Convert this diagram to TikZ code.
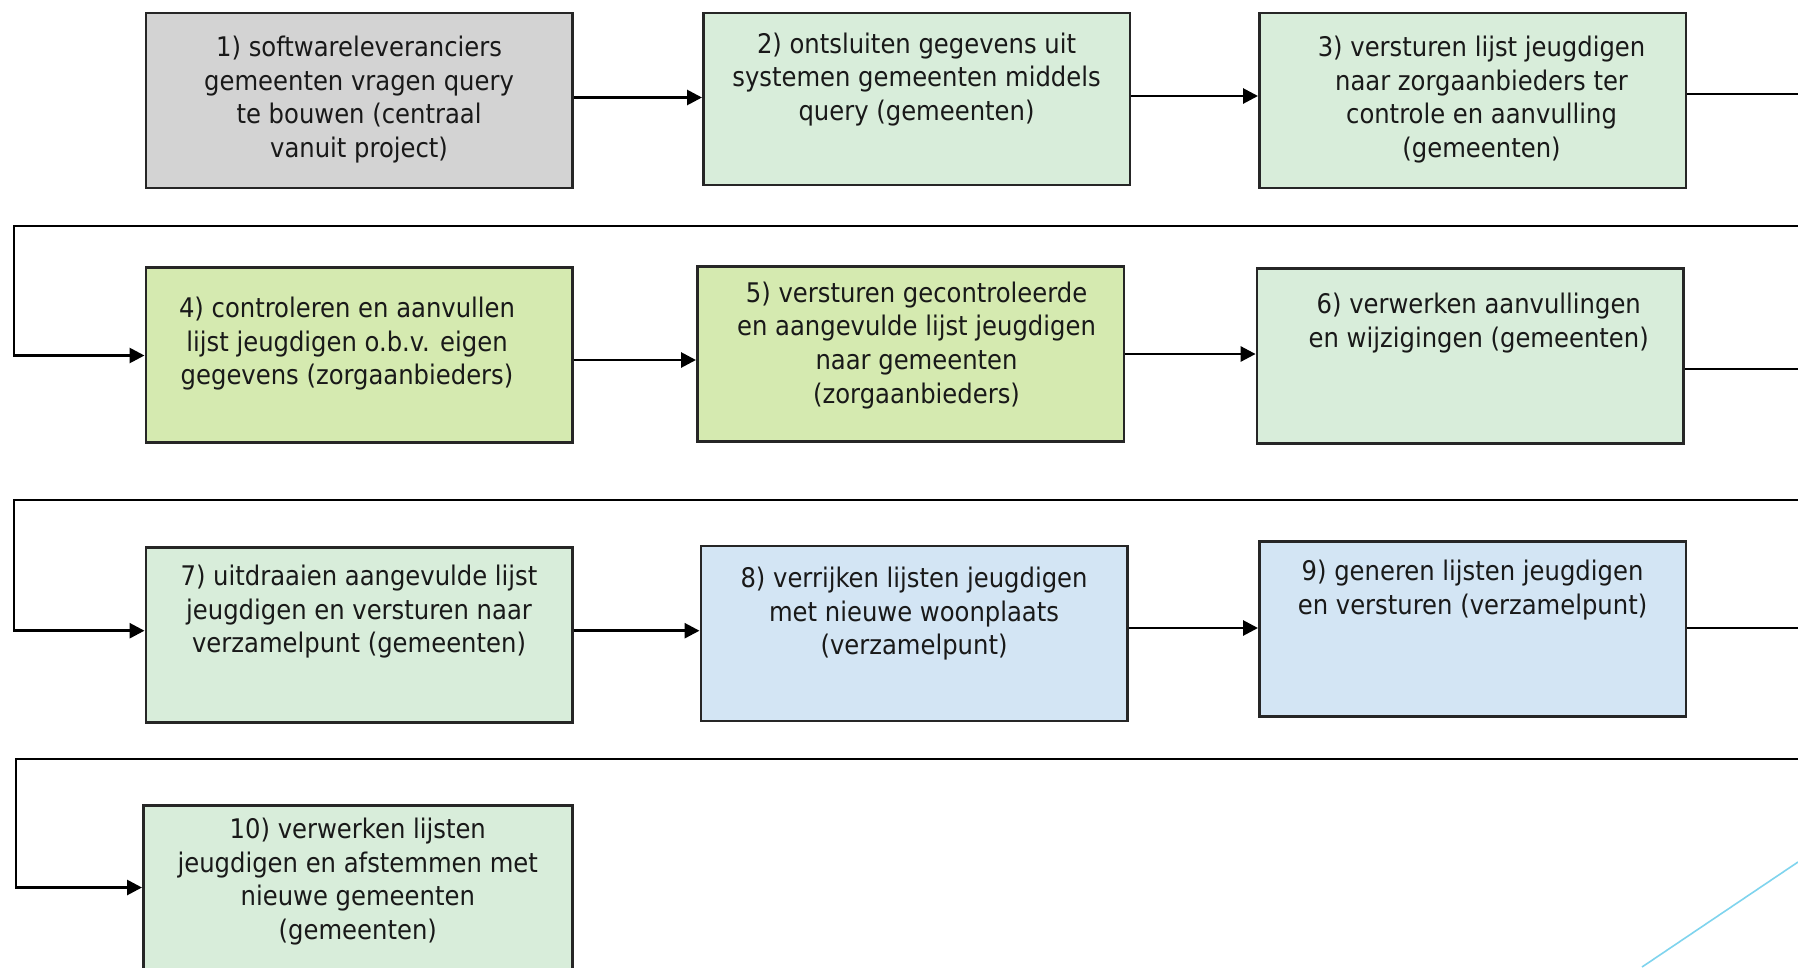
\documentclass[tikz,border=0pt]{standalone}
\usepackage{fontspec}
\setmainfont{DejaVu Sans Condensed}
\usetikzlibrary{arrows.meta}
\definecolor{boxgray}{HTML}{D3D3D3}
\definecolor{boxmint}{HTML}{D8EDDA}
\definecolor{boxlime}{HTML}{D5EAB0}
\definecolor{boxblue}{HTML}{D3E5F4}
\definecolor{edgecol}{HTML}{262626}
\definecolor{decocol}{HTML}{7FD4EE}
\begin{document}
\begin{tikzpicture}[x=1pt,y=-1pt,
  stepbox/.style={draw=edgecol, line width=2.6pt, anchor=north west, inner sep=0pt, minimum width=426.5pt, minimum height=175pt},
  steptext/.style={anchor=north, align=center, inner sep=0pt, text=black!90, font=\fontsize{27}{33.6}\selectfont},
  flow/.style={line width=2.8pt, -{Triangle[length=15pt,width=15pt]}},
  wire/.style={line width=2.8pt},
  deco/.style={draw=decocol, line width=1.6pt}]
\clip (0,0) rectangle (1798,967);
\fill[white] (0,0) rectangle (1798,967);

% row 1
\node[stepbox, fill=boxgray] (b1) at (144.5,11.5) {};
\node[stepbox, fill=boxmint, minimum height=172pt] (b2) at (702,11.5) {};
\node[stepbox, fill=boxmint] (b3) at (1258,11.5) {};
% row 2
\node[stepbox, fill=boxlime] (b4) at (144.5,266) {};
\node[stepbox, fill=boxlime] (b5) at (696,265) {};
\node[stepbox, fill=boxmint] (b6) at (1255.6,267) {};
% row 3
\node[stepbox, fill=boxmint] (b7) at (144.5,546) {};
\node[stepbox, fill=boxblue] (b8) at (699.5,544.7) {};
\node[stepbox, fill=boxblue] (b9) at (1258,540) {};
% row 4
\node[stepbox, fill=boxmint, minimum width=429pt, minimum height=200pt] (b10) at (142,804) {};

% texts
\node[steptext] (t1) at ([yshift=-24.5pt]b1.north) {1) softwareleveranciers\\gemeenten vragen query\\te bouwen (centraal\\vanuit project)};
\node[steptext] (t2) at ([yshift=-21pt]b2.north) {2) ontsluiten gegevens uit\\systemen gemeenten middels\\query (gemeenten)};
\node[steptext] (t3) at ([xshift=9pt,yshift=-24.5pt]b3.north) {3) versturen lijst jeugdigen\\naar zorgaanbieders ter\\controle en aanvulling\\(gemeenten)};
\node[steptext] (t4) at ([xshift=-12pt,yshift=-31pt]b4.north) {4) controleren en aanvullen\\lijst jeugdigen o.b.v. eigen\\gegevens (zorgaanbieders)};
\node[steptext] (t5) at ([xshift=6pt,yshift=-16.5pt]b5.north) {5) versturen gecontroleerde\\en aangevulde lijst jeugdigen\\naar gemeenten\\(zorgaanbieders)};
\node[steptext] (t6) at ([xshift=8.6pt,yshift=-26pt]b6.north) {6) verwerken aanvullingen\\en wijzigingen (gemeenten)};
\node[steptext] (t7) at ([yshift=-19pt]b7.north) {7) uitdraaien aangevulde lijst\\jeugdigen en versturen naar\\verzamelpunt (gemeenten)};
\node[steptext] (t8) at ([yshift=-22pt]b8.north) {8) verrijken lijsten jeugdigen\\met nieuwe woonplaats\\(verzamelpunt)};
\node[steptext] (t9) at ([yshift=-20pt]b9.north) {9) generen lijsten jeugdigen\\en versturen (verzamelpunt)};
\node[steptext] (t10) at ([yshift=-14pt]b10.north) {10) verwerken lijsten\\jeugdigen en afstemmen met\\nieuwe gemeenten\\(gemeenten)};

% free ends
\coordinate (e3) at (1798,94);
\coordinate (s1r) at (1798,226);
\coordinate (s1l) at (14,226);
\coordinate (e6) at (1798,369);
\coordinate (s2r) at (1798,500);
\coordinate (s2l) at (14,500);
\coordinate (e9) at (1798,628);
\coordinate (s3r) at (1798,759);
\coordinate (s3l) at (16,759);

% row 1 connectors
\draw[flow] (b1.east |- 0,97.5) -- (b2.west |- 0,97.5);
\draw[flow] (b2.east |- 0,96) -- (b3.west |- 0,96);
\draw[wire] (b3.east |- e3) -- (e3);
% wrap to row 2
\draw[flow] (s1r) -- (s1l) -- (s1l |- 0,355.5) -- (b4.west |- 0,355.5);
\draw[flow] (b4.east |- 0,360) -- (b5.west |- 0,360);
\draw[flow] (b5.east |- 0,354) -- (b6.west |- 0,354);
\draw[wire] (b6.east |- e6) -- (e6);
% wrap to row 3
\draw[flow] (s2r) -- (s2l) -- (s2l |- 0,630.7) -- (b7.west |- 0,630.7);
\draw[flow] (b7.east |- 0,630.7) -- (b8.west |- 0,630.7);
\draw[flow] (b8.east |- 0,628) -- (b9.west |- 0,628);
\draw[wire] (b9.east |- e9) -- (e9);
% wrap to row 4
\draw[flow] (s3r) -- (s3l) -- (s3l |- 0,887.5) -- (b10.west |- 0,887.5);

% decorative line
\draw[deco] (1798,862) -- (1642,967);
\end{tikzpicture}
\end{document}
